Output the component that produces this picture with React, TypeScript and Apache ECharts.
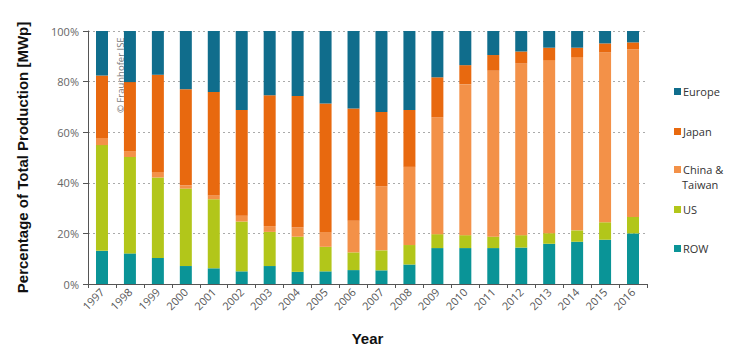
import React, { useEffect, useRef } from "react";
import * as echarts from "echarts";

const years = ["1997","1998","1999","2000","2001","2002","2003","2004","2005","2006","2007","2008","2009","2010","2011","2012","2013","2014","2015","2016"];
const row = [13.1, 12.1, 10.3, 7.1, 6.2, 5.0, 7.1, 4.8, 5.0, 5.5, 5.4, 7.7, 14.2, 14.2, 14.2, 14.4, 15.9, 16.7, 17.5, 20.0];
const us = [41.8, 38.1, 31.8, 30.6, 27.3, 19.7, 13.5, 13.9, 9.7, 7.0, 7.9, 7.7, 5.5, 5.1, 4.5, 4.9, 4.2, 4.5, 6.9, 6.5];
const china = [2.8, 2.3, 2.2, 1.3, 1.5, 2.3, 2.3, 3.6, 5.8, 12.5, 25.3, 30.9, 46.2, 59.6, 65.6, 67.8, 68.4, 68.5, 67.1, 66.2];
const japan = [24.7, 27.3, 38.4, 38.0, 40.9, 41.8, 51.7, 52.0, 50.8, 44.4, 29.4, 22.5, 15.8, 7.6, 6.2, 4.8, 4.9, 3.7, 3.6, 2.8];
const europe = [17.6, 20.2, 17.3, 23.0, 24.1, 31.2, 25.4, 25.7, 28.7, 30.6, 32.0, 31.2, 18.3, 13.5, 9.5, 8.1, 6.6, 6.6, 4.9, 4.5];
const seriesNames = ["ROW", "US", "China & Taiwan", "Japan", "Europe"];
const seriesData = [row, us, china, japan, europe];
const colors = ["#0a9497", "#b2c61a", "#f39148", "#e8690f", "#106d8c"];
const legendLabels: Record<string, string> = { "China & Taiwan": "China &" };
const legendTops = [238, 199, 159, 121, 81];

export default function App() {
  const ref = useRef<HTMLDivElement>(null);
  useEffect(() => {
    if (!ref.current) return;
    const chart = echarts.init(ref.current, null, { renderer: "svg" });
    const fontFamily = "'Open Sans', sans-serif";
    chart.setOption({
      animation: false,
      grid: { left: 88, right: 96, top: 31, bottom: 61, containLabel: false },
      legend: seriesNames.map((n, i) => ({
        data: [n],
        orient: "vertical",
        left: 669,
        top: legendTops[i],
        itemWidth: 7,
        itemHeight: 7,
        icon: "rect",
        formatter: (name: string) => legendLabels[name] || name,
        textStyle: { fontFamily, fontSize: 11, color: "#333", padding: [0, 0, 0, -3] },
      })),
      xAxis: {
        type: "category",
        data: years,
        name: "Year",
        nameLocation: "middle",
        nameGap: 47,
        nameTextStyle: { fontFamily: "'Liberation Sans', Arial, sans-serif", fontWeight: "bold", fontSize: 15, color: "#111" },
        axisLine: { lineStyle: { color: "#555" } },
        axisTick: { show: true, lineStyle: { color: "#555" }, length: 4 },
        axisLabel: { rotate: 45, fontFamily, fontSize: 11, color: "#555", margin: 6, interval: 0 },
      },
      yAxis: {
        type: "value",
        min: 0,
        max: 100,
        interval: 20,
        name: "Percentage of Total Production [MWp]",
        nameLocation: "middle",
        nameGap: 58,
        nameTextStyle: { fontFamily: "'Liberation Sans', Arial, sans-serif", fontWeight: "bold", fontSize: 15, color: "#111" },
        axisLine: { show: true, lineStyle: { color: "#555" } },
        axisTick: { show: true, length: 5, lineStyle: { color: "#555" } },
        axisLabel: { formatter: "{value}%", fontFamily, fontSize: 11, color: "#666", margin: 9 },
        splitLine: { lineStyle: { color: "#aaa", type: [2, 3] } },
      },
      series: seriesNames.map((n, i) => ({
        name: n,
        type: "bar",
        stack: "total",
        barWidth: 12,
        data: seriesData[i],
        itemStyle: { color: colors[i] },
      })),
      graphic: [
        {
          type: "text",
          x: 120,
          y: 113,
          rotation: Math.PI / 2,
          style: { text: "© Fraunhofer ISE", fontFamily, fontSize: 9.5, fill: "#777", textAlign: "left", textVerticalAlign: "middle" },
        },
        {
          type: "text",
          left: 682,
          top: 179,
          style: { text: "Taiwan", fontFamily, fontSize: 11, fill: "#333" },
        },
      ],
    });
    return () => chart.dispose();
  }, []);
  return <div ref={ref} style={{ width: 743, height: 351, position: "absolute", left: 0, top: 0, background: "#fff" }} />;
}
